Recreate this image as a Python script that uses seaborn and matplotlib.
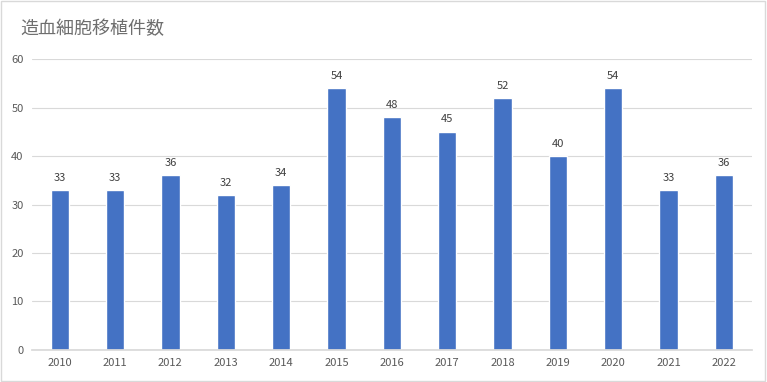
import numpy as np
import matplotlib
matplotlib.use("Agg")
import matplotlib.pyplot as plt
import seaborn as sns
import pandas as pd

years = ["2010", "2011", "2012", "2013", "2014", "2015", "2016",
         "2017", "2018", "2019", "2020", "2021", "2022"]
counts = [33, 33, 36, 32, 34, 54, 48, 45, 52, 40, 54, 33, 36]

sns.set_theme(style="whitegrid")
plt.rcParams['font.family'] = ['Noto Sans CJK JP', 'DejaVu Sans']

frame = pd.DataFrame({"Year": years, "Count": counts})

fig = plt.figure(figsize=(7.67, 3.82), dpi=100)
ax = fig.add_axes([0.0417, 0.0838, 0.9383, 0.7617])
sns.barplot(x="Year", y="Count", data=frame, color="#4472C4",
            saturation=1, width=0.33, ax=ax)

ax.set_ylim(0, 60)
ax.set_yticks(range(0, 61, 10))
ax.set_xlim(-0.5, len(years) - 0.5)
ax.set_xlabel("")
ax.set_ylabel("")
ax.grid(axis="y", color="#D9D9D9", linewidth=0.8)
ax.grid(axis="x", visible=False)
for side in ["top", "right", "left"]:
    ax.spines[side].set_visible(False)
ax.spines["bottom"].set_color("#D9D9D9")
ax.tick_params(axis="both", labelsize=8, colors="#595959", length=0, pad=6)

for i, v in enumerate(counts):
    ax.text(i, v + 1.5, str(v), ha="center", va="bottom",
            fontsize=8, color="#404040")

fig.text(0.026, 0.925, "造血細胞移植件数", fontsize=13, color="#6E6E6E",
         ha="left", va="center")

fig.patches.append(plt.Rectangle((0.001, 0.002), 0.997, 0.995, transform=fig.transFigure,
                                 fill=False, edgecolor="#D9D9D9", linewidth=1))

plt.savefig("out.png", dpi=100)
